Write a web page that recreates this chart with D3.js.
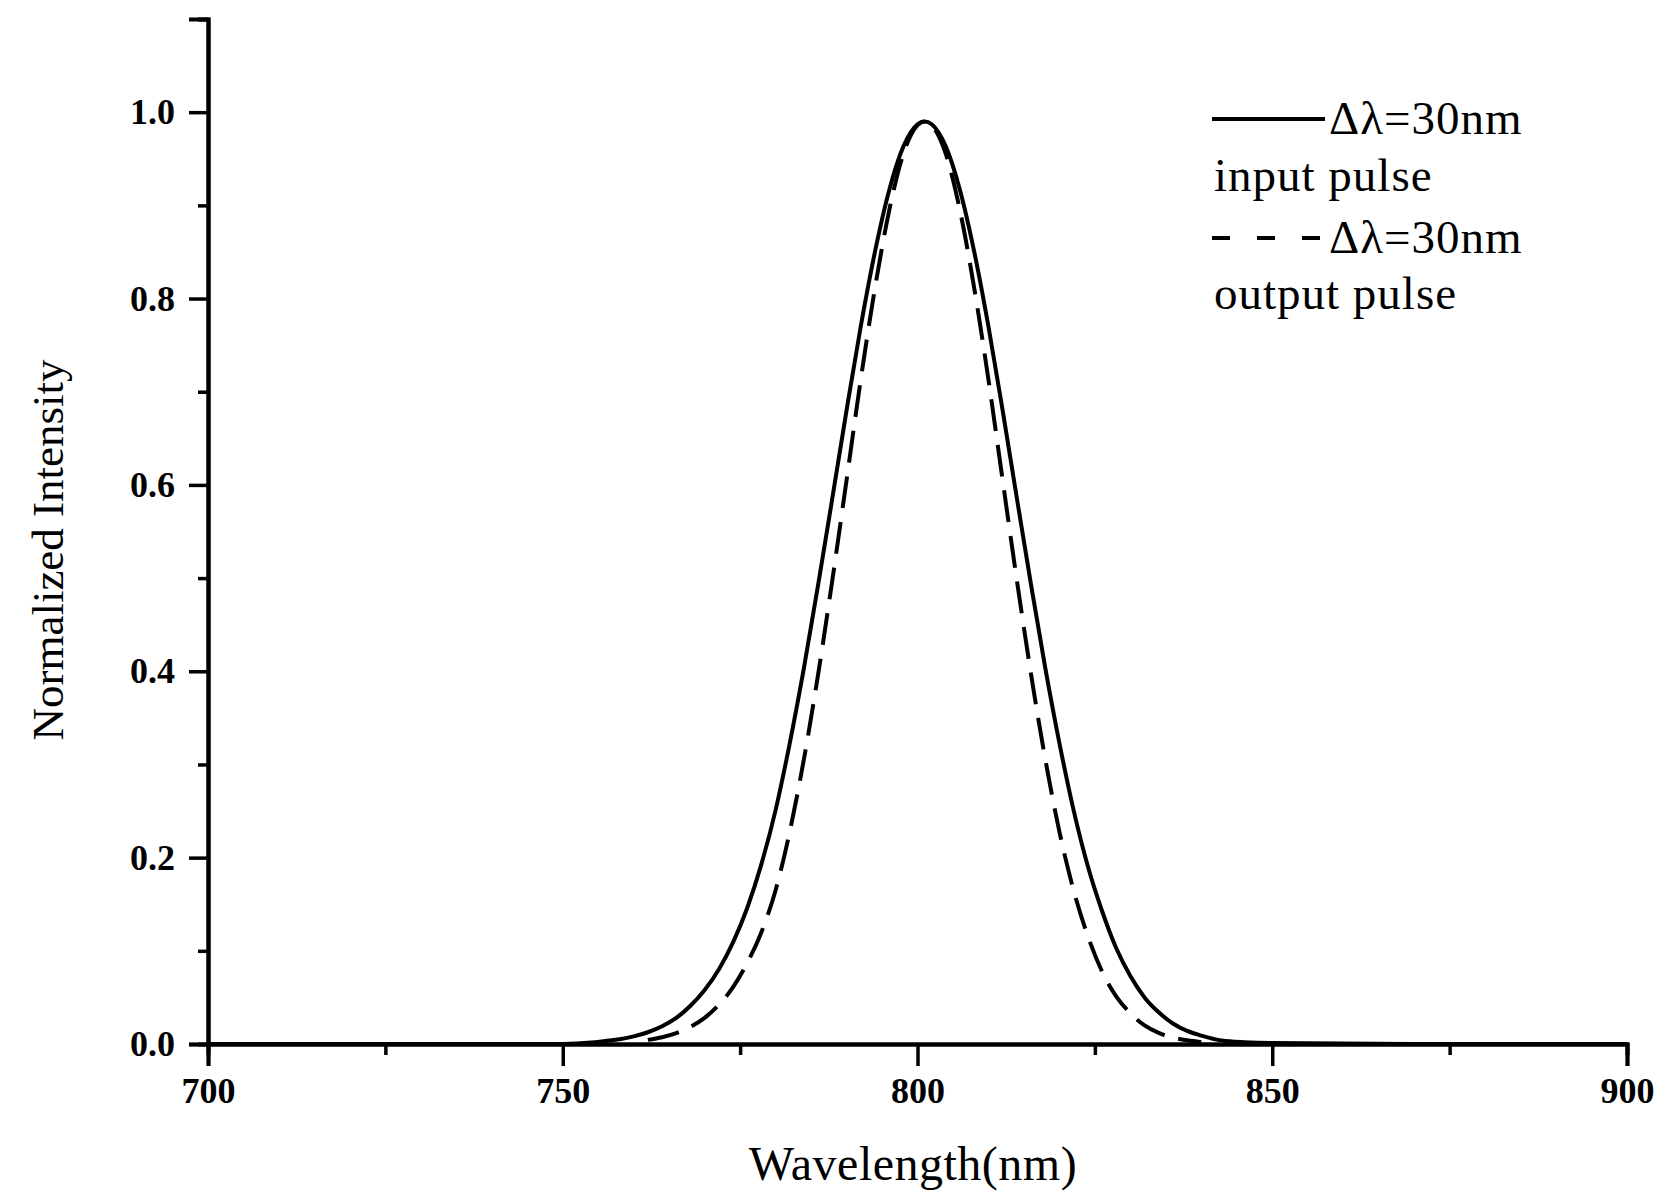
<!DOCTYPE html>
<html>
<head>
<meta charset="utf-8">
<script src="https://d3js.org/d3.v7.min.js"></script>
<style>
	body { margin: 0; background: #fff; }
	.axis-label, .legend text { font-family: "Liberation Serif", "Times New Roman", serif; }
</style>
</head>
<body>
<div id="chart"></div>
<script>

// Wavelength axis (nm) and normalized intensity
const inputWavelength = [700, 730, 750, 754,
	756, 758, 760, 762, 764, 766, 768, 770, 772, 774, 776, 778, 780, 782, 784, 786, 788, 790,
	792, 794, 796, 798, 800, 801, 802, 804, 806, 808, 810, 812, 814, 816, 818, 820, 822, 824, 826,
	828, 830, 832, 834, 836, 838, 840, 842, 844, 846,
	850, 870, 900];
const inputPulse = [0, 0, 0, 0.0015,
	0.0033, 0.0052, 0.0082, 0.0126, 0.019, 0.028, 0.041, 0.058, 0.080, 0.109, 0.146, 0.193, 0.251, 0.323, 0.404, 0.493, 0.586, 0.680,
	0.770, 0.850, 0.916, 0.963, 0.987, 0.990, 0.987, 0.963, 0.916, 0.850, 0.770, 0.680, 0.586, 0.493, 0.404, 0.323, 0.251, 0.191, 0.143,
	0.103, 0.073, 0.050, 0.034, 0.022, 0.014, 0.009, 0.005, 0.003, 0.002,
	0.001, 0, 0];

const outputWavelength = [762, 764, 766, 768, 770, 772, 774, 776, 778, 780, 782, 784, 786, 788, 790,
	792, 794, 796, 798, 800, 801, 802, 804, 806, 808, 810, 812, 814, 816, 818, 820, 822, 824, 826,
	828, 830, 832, 834, 836, 838, 840];
const outputPulse = [0.0044, 0.0073, 0.0117, 0.0184, 0.028, 0.042, 0.061, 0.087, 0.120, 0.165, 0.228, 0.306, 0.397, 0.498, 0.605,
	0.713, 0.811, 0.894, 0.955, 0.986, 0.990, 0.986, 0.955, 0.894, 0.811, 0.713, 0.605, 0.498, 0.397, 0.306, 0.228, 0.165, 0.116, 0.078,
	0.051, 0.033, 0.020, 0.012, 0.007, 0.004, 0.002];

const xMajorTicks = [700, 750, 800, 850, 900];
const xMinorTicks = [725, 775, 825, 875];
const yMajorTicks = [0, 0.2, 0.4, 0.6, 0.8, 1.0];
const yMinorTicks = [0.1, 0.3, 0.5, 0.7, 0.9, 1.1];

const legendLines = ["\u0394\u03bb=30nm", "input pulse", "\u0394\u03bb=30nm", "output pulse"];

class PulseChart {

	constructor(parentElement) {
		this.parentElement = parentElement;
		this.input = inputWavelength.map((w, i) => ({x: w, y: inputPulse[i]}));
		this.output = outputWavelength.map((w, i) => ({x: w, y: outputPulse[i]}));
		this.initVis();
	}

	initVis() {
		let vis = this;

		vis.margin = {top: 19, right: 33, bottom: 157, left: 208};
		vis.totalWidth = 1660;
		vis.totalHeight = 1201;
		vis.width = vis.totalWidth - vis.margin.left - vis.margin.right;
		vis.height = vis.totalHeight - vis.margin.top - vis.margin.bottom;

		vis.svg = d3.select("#" + vis.parentElement).append("svg")
			.attr("width", vis.totalWidth)
			.attr("height", vis.totalHeight)
			.append("g")
			.attr("transform", `translate(${vis.margin.left}, ${vis.margin.top})`);

		// Scales
		vis.x = d3.scaleLinear()
			.domain([700, 900])
			.range([0, vis.width]);
		vis.y = d3.scaleLinear()
			.domain([0, 1.1])
			.range([vis.height, 0]);

		// Axes: major ticks with labels, minor ticks without
		vis.xAxis = d3.axisBottom(vis.x)
			.tickValues(xMajorTicks)
			.tickSize(22)
			.tickPadding(11)
			.tickFormat(d3.format("d"));
		vis.xAxisMinor = d3.axisBottom(vis.x)
			.tickValues(xMinorTicks)
			.tickSize(11)
			.tickFormat("");
		vis.yAxis = d3.axisLeft(vis.y)
			.tickValues(yMajorTicks)
			.tickSize(19)
			.tickPadding(14)
			.tickFormat(d3.format(".1f"));
		vis.yAxisMinor = d3.axisLeft(vis.y)
			.tickValues(yMinorTicks)
			.tickSize(10)
			.tickFormat("");

		vis.svg.append("g")
			.attr("class", "x-axis axis")
			.attr("transform", `translate(0, ${vis.height})`)
			.call(vis.xAxis);
		vis.svg.append("g")
			.attr("class", "x-axis-minor axis")
			.attr("transform", `translate(0, ${vis.height})`)
			.call(vis.xAxisMinor);
		vis.svg.append("g")
			.attr("class", "y-axis axis")
			.call(vis.yAxis);
		vis.svg.append("g")
			.attr("class", "y-axis-minor axis")
			.call(vis.yAxisMinor);

		vis.svg.selectAll(".axis path.domain")
			.attr("stroke", "#000")
			.attr("stroke-width", 4);
		vis.svg.selectAll(".axis .tick line")
			.attr("stroke", "#000")
			.attr("stroke-width", 3.5);
		vis.svg.selectAll(".axis .tick text")
			.attr("fill", "#000")
			.style("font-family", "'Liberation Serif', 'Times New Roman', serif")
			.style("font-size", "36px")
			.style("font-weight", "bold");

		// Axis titles
		vis.svg.append("text")
			.attr("class", "axis-label")
			.attr("x", 913 - vis.margin.left)
			.attr("y", 1180 - vis.margin.top)
			.attr("text-anchor", "middle")
			.style("font-size", "48px")
			.style("letter-spacing", "0.5px")
			.text("Wavelength(nm)");
		vis.svg.append("text")
			.attr("class", "axis-label")
			.attr("text-anchor", "middle")
			.attr("transform", `translate(${63 - vis.margin.left}, ${550 - vis.margin.top}) rotate(-90)`)
			.style("font-size", "45px")
			.text("Normalized Intensity");

		vis.line = d3.line()
			.x(d => vis.x(d.x))
			.y(d => vis.y(d.y))
			.curve(d3.curveMonotoneX);

		vis.legendGroup = vis.svg.append("g")
			.attr("class", "legend")
			.attr("transform", `translate(${1212 - vis.margin.left}, ${119 - vis.margin.top})`);

		vis.updateVis();
	}

	updateVis() {
		let vis = this;

		vis.svg.append("path")
			.datum(vis.input)
			.attr("class", "line input")
			.attr("fill", "none")
			.attr("stroke", "#000")
			.attr("stroke-width", 4)
			.attr("d", vis.line);

		vis.svg.append("path")
			.datum(vis.output)
			.attr("class", "line output")
			.attr("fill", "none")
			.attr("stroke", "#000")
			.attr("stroke-width", 4)
			.attr("stroke-dasharray", "32,14")
			.attr("d", vis.line);

		// Legend: sample line + text, then a second text row
		vis.legendGroup.append("line")
			.attr("x1", 0).attr("x2", 113)
			.attr("y1", 0).attr("y2", 0)
			.attr("stroke", "#000")
			.attr("stroke-width", 4);
		vis.legendGroup.append("line")
			.attr("x1", 0).attr("x2", 108)
			.attr("y1", 119).attr("y2", 119)
			.attr("stroke", "#000")
			.attr("stroke-width", 4)
			.attr("stroke-dasharray", "18,27");

		let rows = [[117, 15], [2, 72], [117, 134], [2, 190]];
		vis.legendGroup.selectAll(".legend-label")
			.data(legendLines)
			.enter().append("text")
			.attr("class", "legend-label")
			.attr("x", (d, i) => rows[i][0])
			.attr("y", (d, i) => rows[i][1])
			.style("font-size", "47px")
			.style("letter-spacing", "1px")
			.text(d => d);
	}
}

new PulseChart("chart");
</script>
</body>
</html>
